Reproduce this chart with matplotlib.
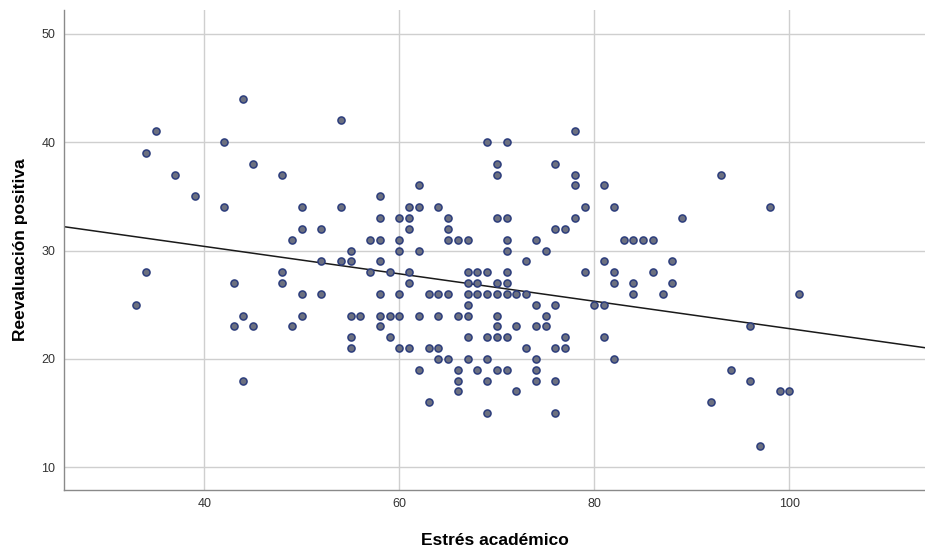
import numpy as np
import matplotlib
matplotlib.use("Agg")
import matplotlib.pyplot as plt

plt.rcParams['font.family'] = ['Liberation Sans', 'DejaVu Sans']

# Estrés académico (x) and Reevaluación positiva (y), one pair per participant
estres = [
    33, 34, 34, 35, 37, 39, 42, 42, 43, 43, 44, 44, 44, 45, 45,
    48, 48, 48, 49, 49, 50, 50, 50, 50, 52, 52, 52, 54, 54, 54,
    55, 55, 55, 55, 55, 56, 57, 57, 58, 58, 58, 58, 58, 58, 58,
    59, 59, 59, 60, 60, 60, 60, 60, 60, 61, 61, 61, 61, 61, 61,
    62, 62, 62, 62, 62, 63, 63, 63, 64, 64, 64, 64, 64,
    65, 65, 65, 65, 65, 66, 66, 66, 66, 66,
    67, 67, 67, 67, 67, 67, 67, 67, 68, 68, 68, 68,
    69, 69, 69, 69, 69, 69, 69,
    70, 70, 70, 70, 70, 70, 70, 70, 70,
    71, 71, 71, 71, 71, 71, 71, 71, 71,
    72, 72, 72, 73, 73, 73, 74, 74, 74, 74, 74, 74, 75, 75, 75,
    76, 76, 76, 76, 76, 76, 77, 77, 77, 78, 78, 78, 78, 79, 79,
    80, 81, 81, 81, 81, 82, 82, 82, 82, 83, 84, 84, 84, 85, 86, 86,
    87, 88, 88, 89, 92, 93, 94, 96, 96, 97, 98, 99, 100, 101,
]
reevaluacion = [
    25, 39, 28, 41, 37, 35, 40, 34, 27, 23, 44, 24, 18, 38, 23,
    37, 28, 27, 31, 23, 34, 32, 26, 24, 32, 29, 26, 42, 34, 29,
    30, 29, 24, 22, 21, 24, 31, 28, 35, 33, 31, 29, 26, 24, 23,
    28, 24, 22, 33, 31, 30, 26, 24, 21, 34, 33, 32, 28, 27, 21,
    36, 34, 30, 24, 19, 26, 21, 16, 34, 26, 24, 21, 20,
    33, 32, 31, 26, 20, 31, 24, 19, 18, 17,
    31, 28, 27, 26, 25, 24, 22, 20, 28, 27, 26, 19,
    40, 28, 26, 22, 20, 18, 15,
    38, 37, 33, 27, 26, 24, 23, 22, 19,
    40, 33, 31, 30, 28, 27, 26, 22, 19,
    26, 23, 17, 29, 26, 21, 31, 25, 23, 20, 19, 18, 30, 24, 23,
    38, 32, 25, 21, 18, 15, 32, 22, 21, 41, 37, 36, 33, 34, 28,
    25, 36, 29, 25, 22, 34, 28, 27, 20, 31, 31, 27, 26, 31, 31, 28,
    26, 29, 27, 33, 16, 37, 19, 23, 18, 12, 34, 17, 17, 26,
]

# Linear fit line (intercept, slope)
fit_intercept = 35.44
fit_slope = -0.1265

x_ticks = [40, 60, 80, 100]
y_ticks = [10, 20, 30, 40, 50]
x_limits = (25.6, 113.9)
y_limits = (7.9, 52.2)

fig = plt.figure(figsize=(9.25, 5.5), dpi=100)
ax = fig.add_axes([0.069, 0.109, 0.931, 0.873])

ax.set_xlim(*x_limits)
ax.set_ylim(*y_limits)
ax.set_xticks(x_ticks)
ax.set_yticks(y_ticks)

ax.grid(True, color='#cfcfcf', linewidth=1.0)
ax.set_axisbelow(True)

for side in ('top', 'right'):
    ax.spines[side].set_visible(False)
for side in ('left', 'bottom'):
    ax.spines[side].set_color('#8a8a8a')
    ax.spines[side].set_linewidth(1.0)

ax.tick_params(axis='both', length=0, labelsize=9, colors='#333333', pad=6)

xs = np.array(x_limits)
ax.plot(xs, fit_intercept + fit_slope * xs, color='#1a1a1a', linewidth=1.1, zorder=2)

ax.scatter(estres, reevaluacion, s=26, facecolor='#6c7080', edgecolor='#2c3d7c',
           linewidth=1.1, zorder=3)

ax.set_xlabel('Estrés académico', fontsize=12.5, fontweight='bold', labelpad=16)
ax.set_ylabel('Reevaluación positiva', fontsize=12.5, fontweight='bold', labelpad=10)

fig.savefig('out.png', dpi=100)
